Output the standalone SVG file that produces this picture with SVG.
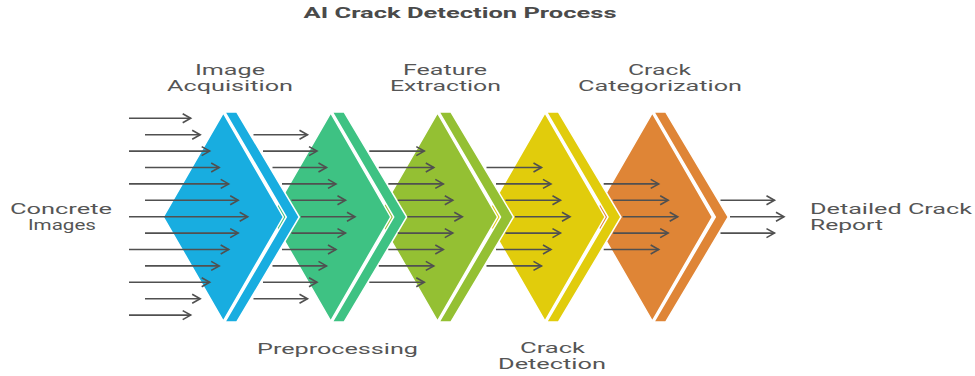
<svg xmlns="http://www.w3.org/2000/svg" width="975" height="376" viewBox="0 0 975 376">
<style>
.lbl{font-family:Roboto,"Liberation Sans",sans-serif;font-size:14px;fill:#555555;}
.ttl{font-family:Roboto,"Liberation Sans",sans-serif;font-size:14px;font-weight:bold;fill:#4a4a4a;}
.shp{stroke:#ffffff;stroke-width:1.5;stroke-linejoin:miter;}
.arr{stroke:#505050;stroke-width:1.6;fill:none;marker-end:url(#ah);}
</style>
<defs>
<marker id="ah" markerUnits="userSpaceOnUse" markerWidth="12" markerHeight="12" refX="9" refY="5" orient="auto" overflow="visible">
<path d="M1,0.5 L9,5 L1,9.5" fill="none" stroke="#505050" stroke-width="1.6"/>
</marker>
</defs>
<rect width="975" height="376" fill="#ffffff"/>
<text class="ttl" x="460" y="18" text-anchor="middle" textLength="313" lengthAdjust="spacingAndGlyphs">AI Crack Detection Process</text>

<g id="crack-categorization">
<polygon class="shp" fill="#DF8536" points="653.8,112 665.8,112 728.3,217 665.8,322 653.8,322 715.3,217"/>
<polygon class="shp" fill="#DF8536" points="652.3,113 712.3,217 652.3,321 592.3,217"/>
<text class="lbl" x="659.5" y="75" text-anchor="middle" textLength="63" lengthAdjust="spacingAndGlyphs">Crack</text>
<text class="lbl" x="660" y="91" text-anchor="middle" textLength="164" lengthAdjust="spacingAndGlyphs">Categorization</text>
</g>
<g id="crack-detection">
<polygon class="shp" fill="#E1CC0C" points="546.5,112 558.5,112 621,217 558.5,322 546.5,322 608,217"/>
<polygon class="shp" fill="#E1CC0C" points="545,113 605,217 545,321 485,217"/>
<text class="lbl" x="552.5" y="353" text-anchor="middle" textLength="65" lengthAdjust="spacingAndGlyphs">Crack</text>
<text class="lbl" x="552" y="369" text-anchor="middle" textLength="108" lengthAdjust="spacingAndGlyphs">Detection</text>
</g>
<g id="feature-extraction">
<polygon class="shp" fill="#94C033" points="439,112 451,112 513.5,217 451,322 439,322 500.5,217"/>
<polygon class="shp" fill="#94C033" points="437.5,113 497.5,217 437.5,321 377.5,217"/>
<text class="lbl" x="445" y="75" text-anchor="middle" textLength="84" lengthAdjust="spacingAndGlyphs">Feature</text>
<text class="lbl" x="445.5" y="91" text-anchor="middle" textLength="111" lengthAdjust="spacingAndGlyphs">Extraction</text>
</g>
<g id="preprocessing">
<polygon class="shp" fill="#3EC283" points="332.2,112 344.2,112 406.7,217 344.2,322 332.2,322 393.7,217"/>
<polygon class="shp" fill="#3EC283" points="330.7,113 390.7,217 330.7,321 270.7,217"/>
<text class="lbl" x="337.5" y="354" text-anchor="middle" textLength="161" lengthAdjust="spacingAndGlyphs">Preprocessing</text>
</g>
<g id="image-acquisition">
<polygon class="shp" fill="#18ADE0" points="224.8,112 236.8,112 299.3,217 236.8,322 224.8,322 286.3,217"/>
<polygon class="shp" fill="#18ADE0" points="223.3,113 283.3,217 223.3,321 163.3,217"/>
<text class="lbl" x="230" y="75" text-anchor="middle" textLength="70" lengthAdjust="spacingAndGlyphs">Image</text>
<text class="lbl" x="230" y="91" text-anchor="middle" textLength="126" lengthAdjust="spacingAndGlyphs">Acquisition</text>
</g>
<g id="concrete-images">
<text class="lbl" x="61" y="214" text-anchor="middle" textLength="102" lengthAdjust="spacingAndGlyphs">Concrete</text>
<text class="lbl" x="62" y="230" text-anchor="middle" textLength="68" lengthAdjust="spacingAndGlyphs">Images</text>
</g>
<g id="detailed-crack-report">
<text class="lbl" x="810" y="214" textLength="162" lengthAdjust="spacingAndGlyphs">Detailed Crack</text>
<text class="lbl" x="810" y="230" textLength="73" lengthAdjust="spacingAndGlyphs">Report</text>
</g>

<g id="connectors">
<path class="arr" d="M129,118.3H190.7"/>
<path class="arr" d="M145,134.7H200.2"/>
<path class="arr" d="M129,151.1H209.7"/>
<path class="arr" d="M145,167.5H219.2"/>
<path class="arr" d="M129,183.9H228.7"/>
<path class="arr" d="M145,200.3H238.2"/>
<path class="arr" d="M129,216.7H247.7"/>
<path class="arr" d="M145,233.1H238.2"/>
<path class="arr" d="M129,249.5H228.7"/>
<path class="arr" d="M145,265.9H219.2"/>
<path class="arr" d="M129,282.3H209.7"/>
<path class="arr" d="M145,298.7H200.2"/>
<path class="arr" d="M129,315.1H190.7"/>

<path class="arr" d="M253.5,134.7H307.5"/>
<path class="arr" d="M263,151.1H317"/>
<path class="arr" d="M272.5,167.5H326.5"/>
<path class="arr" d="M282,183.9H336"/>
<path class="arr" d="M291.5,200.3H345.5"/>
<path class="arr" d="M301,216.7H355"/>
<path class="arr" d="M291.5,233.1H345.5"/>
<path class="arr" d="M282,249.5H336"/>
<path class="arr" d="M272.5,265.9H326.5"/>
<path class="arr" d="M263,282.3H317"/>
<path class="arr" d="M253.5,298.7H307.5"/>

<path class="arr" d="M369.3,151.1H424.3"/>
<path class="arr" d="M378.8,167.5H433.8"/>
<path class="arr" d="M388.3,183.9H443.3"/>
<path class="arr" d="M397.8,200.3H452.8"/>
<path class="arr" d="M407.3,216.7H462.3"/>
<path class="arr" d="M397.8,233.1H452.8"/>
<path class="arr" d="M388.3,249.5H443.3"/>
<path class="arr" d="M378.8,265.9H433.8"/>
<path class="arr" d="M369.3,282.3H424.3"/>

<path class="arr" d="M486.5,167.5H541.5"/>
<path class="arr" d="M496,183.9H551"/>
<path class="arr" d="M505.5,200.3H560.5"/>
<path class="arr" d="M515,216.7H570"/>
<path class="arr" d="M505.5,233.1H560.5"/>
<path class="arr" d="M496,249.5H551"/>
<path class="arr" d="M486.5,265.9H541.5"/>

<path class="arr" d="M603.7,183.9H658.7"/>
<path class="arr" d="M613.2,200.3H668.2"/>
<path class="arr" d="M622.7,216.7H677.7"/>
<path class="arr" d="M613.2,233.1H668.2"/>
<path class="arr" d="M603.7,249.5H658.7"/>

<path class="arr" d="M720.5,200.3H774.5"/>
<path class="arr" d="M730,216.7H784"/>
<path class="arr" d="M720.5,233.1H774.5"/>
</g>
</svg>
